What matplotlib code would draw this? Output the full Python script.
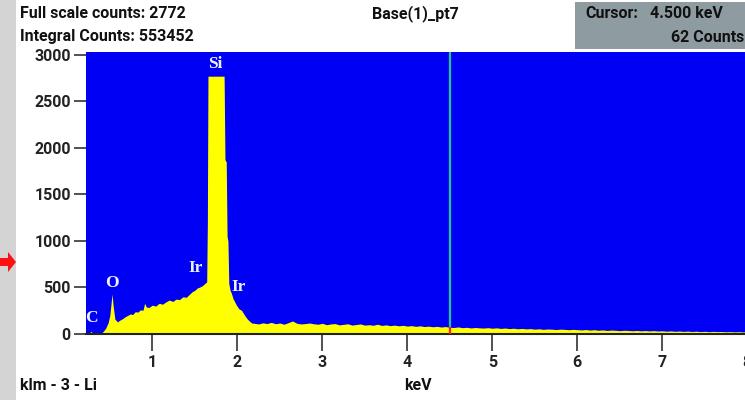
import matplotlib
matplotlib.use("Agg")
import matplotlib.pyplot as plt
import numpy as np
from matplotlib.patches import Rectangle, Polygon

# ---------- 数据 ----------
# 低能区 + Si 峰区：能量 (keV) 与计数
peak_kev = [0.22, 0.25, 0.27, 0.28, 0.30, 0.33, 0.38, 0.41, 0.45, 0.48,
            0.50, 0.515, 0.527, 0.54, 0.56, 0.59, 0.62, 0.65, 0.68, 0.71,
            0.74, 0.77, 0.80, 0.83, 0.86, 0.89, 0.91, 0.93, 0.96, 1.00,
            1.04, 1.08, 1.12, 1.16, 1.20, 1.24, 1.28, 1.32, 1.36, 1.40,
            1.44, 1.47, 1.50, 1.53, 1.56, 1.59, 1.62, 1.64, 1.648, 1.655,
            1.845, 1.855, 1.87, 1.88, 1.89, 1.90, 1.915, 1.93, 1.95, 1.97,
            1.99, 2.02, 2.05, 2.08, 2.11, 2.14, 2.17]
peak_counts = [0, 5, 20, 28, 8, 0, 0, 15, 60, 120,
               200, 330, 430, 300, 160, 130, 150, 165, 185, 200,
               215, 210, 240, 235, 260, 255, 330, 290, 285, 310,
               300, 330, 320, 345, 365, 350, 375, 370, 400, 395,
               430, 455, 470, 495, 505, 520, 545, 560, 1200, 2772,
               2772, 1875, 1850, 1050, 1000, 545, 470, 440, 380, 345,
               310, 270, 255, 210, 170, 140, 118]

# 高能区本底：每 0.05 keV 一个读数，2.20 ~ 8.00 keV
tail_counts = [115, 108, 120, 112, 125, 110, 118, 105, 122, 140, 115, 108, 112,
               118, 110, 105, 115, 100, 108, 112, 98, 104, 110, 96, 102, 108, 95,
               100, 94, 105, 92, 98, 90, 95, 88, 93, 85, 90, 82, 88, 80,
               84, 78, 82, 75, 80, 72, 70, 76, 68, 72, 65, 70, 66, 64, 68,
               62, 66, 60, 64, 58, 62, 56, 60, 55, 58, 52, 56, 50, 54, 52, 48, 52, 50, 46, 50,
               47, 44, 48, 42, 46, 40, 44, 38, 42, 40, 36, 40, 38, 35, 38, 34, 37, 33, 36, 32,
               34, 30, 33, 29, 32, 28, 31, 27, 30, 26, 29, 25, 28, 26, 27, 24, 26, 23, 25, 22, 24]
tail_kev = np.round(2.20 + 0.05 * np.arange(len(tail_counts)), 2)

# 峰标注
peak_labels = ["C", "O", "Ir", "Si", "Ir"]
label_kev = [0.28, 0.527, 1.515, 1.74, 2.02]
label_counts = [175, 550, 710, 2905, 510]

x_ticks = [1, 2, 3, 4, 5, 6, 7, 8]
y_ticks = [0, 500, 1000, 1500, 2000, 2500, 3000]

cursor_kev = 4.5
cursor_counts = 62
full_scale = 2772
integral_counts = 553452

# ---------- 外观 ----------
plt.rcParams['font.family'] = ['Roboto', 'DejaVu Sans']
plt.rcParams['font.weight'] = 'bold'
FS = 11.5

kev = np.concatenate([peak_kev, tail_kev])
counts = np.concatenate([peak_counts, tail_counts])

fig = plt.figure(figsize=(7.45, 4.0), dpi=100)
fig.patch.set_facecolor('white')

# 左侧灰色边条与红色箭头
fig.patches.append(Rectangle((0, 0), 16 / 745, 1, transform=fig.transFigure,
                             facecolor='#d4d4d4', edgecolor='none', zorder=0))
fig.patches.append(Polygon([[0, 0.355], [8 / 745, 0.355], [8 / 745, 0.37],
                            [16 / 745, 0.345], [8 / 745, 0.32], [8 / 745, 0.335],
                            [0, 0.335]],
                           closed=True, transform=fig.transFigure,
                           facecolor='#ff1010', edgecolor='none', zorder=1))

ax = fig.add_axes([86 / 745, 66 / 400, 665.5 / 745, 282 / 400])
ax.set_facecolor('#0000f5')
ax.fill_between(kev, 0, counts, color='#ffff00', linewidth=0, zorder=2)
ax.set_xlim(0.22, 8.05)
ax.set_ylim(0, 3032)

# 光标线
ax.plot([cursor_kev, cursor_kev], [cursor_counts, 3032], color='#1ec896', lw=1.6, zorder=3)
ax.plot([cursor_kev, cursor_kev], [0, cursor_counts], color='#ff2020', lw=1.6, zorder=3)

for lab, x, y in zip(peak_labels, label_kev, label_counts):
    ax.text(x, y, lab, color='#eef2ff', fontsize=12.5, fontweight='bold',
            family='Liberation Serif', ha='center', va='center', zorder=4)

ax.set_xticks(x_ticks)
ax.set_yticks(y_ticks)
ax.tick_params(axis='x', length=12, width=1.2, color='#333333', labelsize=FS,
               pad=3, labelcolor='#222222')
ax.tick_params(axis='y', length=9, width=1.2, color='#333333', labelsize=FS,
               pad=2, labelcolor='#222222')
for lab in ax.get_xticklabels() + ax.get_yticklabels():
    lab.set_fontweight('bold')
for side in ['top', 'right', 'left']:
    ax.spines[side].set_visible(False)
ax.spines['bottom'].set_color('#222222')
ax.spines['bottom'].set_linewidth(1.5)

# ---------- 头部文字 ----------
txt = dict(fontsize=FS, fontweight='bold', va='center', color='#111111')
fig.text(20 / 745, 1 - 14 / 400, f"Full scale counts: {full_scale}", ha='left', **txt)
fig.text(20 / 745, 1 - 37 / 400, f"Integral Counts: {integral_counts}", ha='left', **txt)
fig.text(415 / 745, 1 - 14 / 400, "Base(1)_pt7", ha='center', **txt)

fig.patches.append(Rectangle((575 / 745, 1 - 49 / 400), 170 / 745, 47 / 400,
                             transform=fig.transFigure, facecolor='#8e9ca2',
                             edgecolor='none', zorder=0))
fig.text(585 / 745, 1 - 14 / 400, "Cursor:", ha='left', **txt)
fig.text(723 / 745, 1 - 14 / 400, f"{cursor_kev:.3f} keV", ha='right', **txt)
fig.text(744 / 745, 1 - 37 / 400, f"{cursor_counts} Counts", ha='right', **txt)

# ---------- 底部文字 ----------
fig.text(20 / 745, 1 - 385 / 400, "klm - 3 - Li", ha='left', **txt)
fig.text(418 / 745, 1 - 385 / 400, "keV", ha='center', **txt)

fig.savefig('out.png', dpi=100, facecolor=fig.get_facecolor())
